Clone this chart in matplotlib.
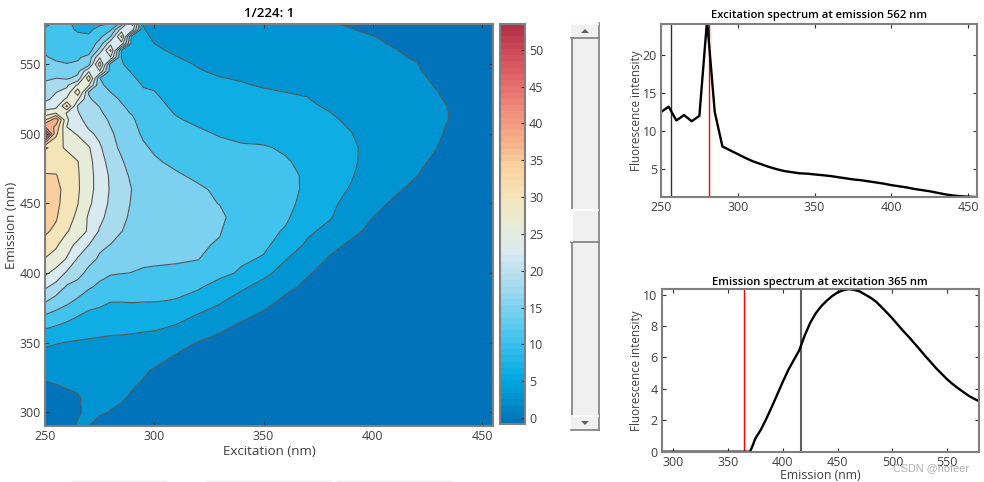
import numpy as np
import matplotlib
matplotlib.use("Agg")
import matplotlib.pyplot as plt
from matplotlib.colors import LinearSegmentedColormap, Normalize
from matplotlib.cm import ScalarMappable
from matplotlib.patches import Rectangle, Polygon
from matplotlib.lines import Line2D

W, H = 984, 482
plt.rcParams['font.family'] = ['Open Sans', 'DejaVu Sans']

excitation = [250,255,260,265,270,275,280,285,290,295,300,310,320,330,340,350,360,370,380,390,400,410,420,430,440,455]
emission_a = [290,300,310,320,330,340,350,360,370,380,390,400,420,440,460,470,480,490,500,510,520,530,540,550,560,570,580]

# one list per excitation wavelength, values ordered by emission_a
ex250=[1.5,2.0,2.4,2.7,3.6,5.5,7.5,10.8,14.6,19,23,27,32.7,35.5,35.5,34.5,32,29.9,53,34,24,20.5,18,15.5,14.4,12,10]
ex255=[1.8,2.2,2.5,2.9,3.8,5.5,7.0,10,13.5,17,21,25,30.8,34.5,35,34.3,32.5,31,35,41,24.5,22.3,18.5,15,13.5,12,11]
ex260=[2,2.5,2.7,3,4,5.5,6.7,9,12.5,15.5,18,21.8,27.8,31.5,33,32.5,31.5,29.8,27.5,26.8,35,23.5,18,14.8,12,11.3,11]
ex265=[3.1,2.7,2.8,3.1,4.1,5.6,6.5,8.5,11,14,16.8,20,25.2,29.5,30.7,30.6,30.3,28.5,26,23.5,22,33,19.5,15.2,12,11,10.2]
ex270=[2.9,3.3,3.2,3.5,4.3,5.5,6.4,7.9,9.8,12.7,15,17.3,22.4,25.8,27.5,27.5,27.5,26.7,23.2,21,19.5,18.2,33,17,12.5,11,9.8]
ex275=[2.3,3.1,3.4,3.7,4.5,5.5,6.3,7.6,9.3,12,14,15.5,19.3,23.4,24.8,24.8,24,23,21.5,19.8,18.4,16,14.7,32.5,20,13.5,10]
ex280=[2,2.85,3.2,3.6,4.4,5.4,6.2,7.4,8.9,10.9,13,14.9,18.4,21,22,21.8,21,19.8,19,18,16.8,14.6,12.5,13,31,18.5,10.5]
ex285=[1.7,2.5,3.1,3.5,4.3,5.3,6.2,7.3,8.8,10.9,12.8,14.7,17,19.3,19.8,19.5,18.9,17.8,17.3,15.6,14.9,13.5,12.3,10.9,10.6,31,15]
ex290=[1.4,2.1,2.6,3.1,3.9,5.1,6.1,7.2,8.7,11,12.8,14.55,16,17.8,18.4,17.9,16.8,16,15.5,15,13.8,12.8,11.1,9.8,8.8,8.4,28]
ex295=[1.2,1.7,2.2,2.7,3.2,4.6,5.9,7.1,8.6,10.9,12.4,14.35,15.1,16.6,17,16.5,15.7,15,14.2,13.3,12.3,11.1,9.9,8.9,7.9,7.2,6.7]
ex300=[1.0,1.4,1.8,2.2,2.7,3.9,5.2,7.1,8.4,10.9,12.2,14.3,15,15.9,16.3,15.8,15,14.2,13.2,12.4,11.6,10.8,9.7,8.6,7.2,6.5,6.1]
ex310=[.7,1,1.3,1.7,2.1,2.7,3.9,6.3,8,10.5,11.8,14.1,15.2,15.9,15.6,15,13.9,12.9,12,11,10.1,9.3,8.5,7.5,6.4,5.7,5]
ex320=[.5,.7,1,1.3,1.7,2.2,2.8,4.8,6.7,9,11.2,13,15,15.5,15.1,14,13,12,11.2,10.1,9,8.2,7.4,6.6,5.7,5,4.3]
ex330=[.3,.5,.7,1,1.3,1.7,2.3,3.2,4.9,7.4,9.2,11.7,14.3,15.3,14,13.2,12.4,11.4,10.5,9.5,8.7,7.9,6.9,6,5.2,4.5,3.9]
ex340=[.2,.3,.5,.7,1,1.3,1.8,2.4,3.4,4.8,7.6,10.2,11.6,12.9,12.9,12.5,11.9,11,10.1,9.1,8.2,7.4,6.6,5.7,4.9,4.2,3.6]
ex350=[.1,.2,.3,.5,.7,1,1.4,1.9,2.6,3.6,5.1,8,11.3,12.4,12.5,12.2,11.7,11,9.6,8.6,7.7,7.1,6.2,5.3,4.6,3.9,3.3]
ex360=[.05,.1,.2,.3,.5,.7,1,1.4,1.9,2.5,3.4,5,9.3,11.2,11.6,11.4,11,10.3,8.9,8,7.2,6.8,5.8,5,4.3,3.6,3]
ex370=[0,.05,.1,.2,.3,.5,.7,1,1.4,1.9,2.5,3.1,6.1,8.8,10.2,10.3,9.9,9.3,8.5,7.8,7.2,6.6,5.6,4.8,4.1,3.4,2.9]
ex380=[0,0,.05,.1,.2,.3,.5,.7,1,1.3,1.7,2.2,3.6,7.2,8.3,8.6,8.7,8.4,7.9,7.3,6.5,5.6,4.9,4.2,3.5,3.1,2.95]
ex390=[0,0,0,0,0,.1,.2,.3,.5,.7,1,1.4,2.5,4.5,6.5,7.1,7.4,7.3,6.9,6.3,5.5,4.9,4.3,3.8,3.4,3.1,2.75]
ex400=[0,0,0,0,0,0,.1,.2,.3,.4,.6,.9,1.8,2.9,4.2,4.9,5.5,5.8,5.6,5.1,4.7,4.3,3.9,3.6,3.2,2.95,2.3]
ex410=[0,0,0,0,0,0,0,0,0,.1,.2,.5,1.1,2,3.2,3.9,4.3,4.6,4.7,4.5,4.2,3.9,3.5,3.2,2.95,2.6,2]
ex420=[0,0,0,0,0,0,0,0,0,0,.1,.2,.6,1.4,2.4,2.95,3.3,3.6,3.7,3.7,3.6,3.4,3.2,2.95,2.6,2.2,1.7]
ex430=[0,0,0,0,0,0,0,0,0,0,0,0,.3,.9,1.7,2.1,2.5,2.85,3.05,3.15,3.1,2.9,2.6,2.3,1.95,1.6,1.2]
ex440=[0,0,0,0,0,0,0,0,0,0,0,0,.1,.5,1,1.3,1.6,2,2.3,2.6,2.6,2.3,2,1.7,1.3,1,.7]
ex455=[0,0,0,0,0,0,0,0,0,0,0,0,0,.1,.3,.5,.6,.8,.9,1,1,1,.8,.7,.5,.4,.3]

# further emission rows, values ordered by excitation
em410=[30,28.5,26,22,19.9,17.9,16.5,15.7,15.2,15,14.9,14.85,14.7,13,11.2,10.4,7,4.2,2.7,1.8,1.3,.8,.4,.15,0,0]
em430=[34.7,33.3,30.5,28.5,25.7,22,20,18.6,17.2,16,15.6,15.5,15.3,14.8,12.3,11.7,10.4,7.6,5.6,3.5,2.3,1.5,1,.6,.3,0]
em450=[36,35,32.5,30.3,27,24.3,21.7,19.6,18.2,17,16.2,15.9,15.4,14.5,13,12.5,11.5,9.8,7.7,5.5,3.5,2.6,1.9,1.3,.8,.2]
em505=[42,37,26.3,24.5,22,20.5,18.5,16.5,15.3,13.8,12.8,11.5,10.7,10,9.6,9.1,8.4,8.1,7.6,6.6,5.4,4.6,3.7,3.1,2.45,.95]
em515=[28,30,26,22.7,20.3,19,17.4,15.2,14.4,12.8,12,10.5,9.5,9.1,8.6,8.1,7.6,7.5,6.9,5.9,4.9,4.35,3.65,3.15,2.6,1]
em525=[21.5,23.5,27,27,19,17,15.7,14.2,13.3,11.7,11.2,9.7,8.6,8.3,7.8,7.4,7,6.9,6,5.2,4.5,4.05,3.5,3,2.45,1]
em535=[19.2,20.3,21.8,27,27,15.3,13.5,12.9,11.9,10.5,10.3,8.9,7.8,7.4,7,6.6,6.3,6.1,5.2,4.6,4.1,3.7,3.3,2.75,2.15,.9]
em545=[16.7,16.8,16.5,17.5,26,26,12.7,11.6,10.4,9.4,9.1,8,7,6.4,6.1,5.7,5.4,5.2,4.5,4,3.75,3.35,3.05,2.45,1.85,.75]
em555=[14.8,14.2,13.3,14,16,26,26,10.7,9.2,8.4,7.8,6.9,6.1,5.6,5.3,4.9,4.6,4.4,3.8,3.6,3.4,3.05,2.8,2.1,1.5,.6]
em565=[13,12.5,11.6,11.5,12,16,25,25,8.5,7.5,6.8,6,5.3,4.8,4.5,4.2,3.9,3.7,3.3,3.25,3.05,2.8,2.4,1.8,1.15,.45]
em575=[11,11.3,11.1,10.5,10.2,11.5,14,24,24,6.9,6.3,5.3,4.6,4.2,3.9,3.6,3.3,3.1,3,2.95,2.6,2.3,1.95,1.4,.85,.35]
emission_b = [410,430,450,505,515,525,535,545,555,565,575]

contour_levels = [-1,2.9,6.8,10.7,14.6,18.5,22.4,26.3,30.2,34.1,38,41.9,45.8,49.7,53.6]
cbar_values = [-0.8,2.9,5,6.8,10.7,14.6,18.5,22.4,26.3,30.2,34.1,38,42,45.8,49.7,53.5]
cbar_colors = ['#0073ba','#0098d4','#00a8e0','#17b1e7','#45c4ef','#79d1ef','#aedcee','#d8eaf0',
               '#e9ecd5','#f5e4b8','#f8d3a0','#f5ae88','#f08c7c','#e46a6c','#d04c5a','#b03249']
colorbar_ticks = [0,5,10,15,20,25,30,35,40,45,50]

ex_spec_x = [250,255,260,265,270,275,280,285,290,295,300,305,310,315,320,325,330,335,340,345,350,355,360,365,370,375,380,385,390,395,400,405,410,415,420,425,430,435,440,445,450,455]
ex_spec_y = [12.5,13.2,11.4,12.1,11.3,12.0,24.5,12.5,8.0,7.5,7.0,6.5,6.05,5.7,5.35,5.05,4.8,4.65,4.5,4.45,4.35,4.25,4.15,4.0,3.85,3.7,3.6,3.45,3.3,3.15,2.95,2.8,2.65,2.45,2.3,2.15,1.95,1.75,1.6,1.5,1.45,1.4]
em_spec_x = [290,300,310,320,330,340,350,360,370,372,375,380,385,390,395,400,405,410,415,420,425,430,435,440,445,450,455,460,465,470,475,480,485,490,495,500,505,510,515,520,525,530,535,540,545,550,555,560,565,570,575,580]
em_spec_y = [0,0,0,0,0,0,0,0,0,0.3,0.85,1.4,2.1,2.86,3.65,4.45,5.2,5.83,6.45,7.4,8.2,8.8,9.25,9.6,9.9,10.13,10.27,10.34,10.3,10.2,10.0,9.8,9.55,9.2,8.85,8.47,8.07,7.67,7.3,6.9,6.5,6.08,5.7,5.3,4.95,4.6,4.3,4.03,3.78,3.54,3.35,3.18]

part_a = np.array([ex250,ex255,ex260,ex265,ex270,ex275,ex280,ex285,ex290,ex295,ex300,ex310,ex320,ex330,
                   ex340,ex350,ex360,ex370,ex380,ex390,ex400,ex410,ex420,ex430,ex440,ex455]).T
part_b = np.array([em410,em430,em450,em505,em515,em525,em535,em545,em555,em565,em575])
emission = np.array(emission_a + emission_b)
order = np.argsort(emission)
emission = emission[order]
intensity = np.vstack([part_a, part_b])[order]

fig = plt.figure(figsize=(W/100, H/100), dpi=100, facecolor='white')

def axpx(l, t, r, b):
    return fig.add_axes([l/W, 1-b/H, (r-l)/W, (b-t)/H])

def rectpx(l, t, r, b, **kw):
    fig.add_artist(Rectangle((l/W, 1-b/H), (r-l)/W, (b-t)/H, transform=fig.transFigure, **kw))

def linepx(xs, ys, **kw):
    fig.add_artist(Line2D([x/W for x in xs], [1-y/H for y in ys], transform=fig.transFigure, **kw))

GRAY = '#7f7f7f'
TXT = '#404040'

def style(ax, fs=9):
    for s in ax.spines.values():
        s.set_color(GRAY)
        s.set_linewidth(1.5)
    ax.tick_params(direction='in', length=3, width=0.8, color='#303030', top=True, right=True,
                   labelsize=fs, labelcolor=TXT, pad=3)

# main map
ax = axpx(45, 24, 493, 426)
cmap = LinearSegmentedColormap.from_list(
    'spec', [((v-cbar_values[0])/(cbar_values[-1]-cbar_values[0]), c) for v, c in zip(cbar_values, cbar_colors)], N=64)
norm = Normalize(cbar_values[0], cbar_values[-1])
fills = [cmap(norm(l)) for l in contour_levels[:-1]]
ax.contourf(excitation, emission, intensity, levels=contour_levels, colors=fills)
ax.contour(excitation, emission, intensity, levels=contour_levels[1:-1], colors='#555555', linewidths=0.8)
ax.set_xlim(250, 455)
ax.set_ylim(290, 579)
ax.set_xticks([250,300,350,400,450])
ax.set_yticks([300,350,400,450,500,550])
style(ax)
ax.set_xlabel('Excitation (nm)', fontsize=9.6, color=TXT, labelpad=1)
ax.set_ylabel('Emission (nm)', fontsize=9.6, color=TXT, labelpad=1)
ax.set_title('1/224: 1', fontsize=9.5, color='black', pad=5, fontweight='semibold')

# colorbar
cax = axpx(500, 24, 525, 424)
cb = fig.colorbar(ScalarMappable(norm=norm, cmap=cmap), cax=cax)
cb.set_ticks(colorbar_ticks)
cb.ax.tick_params(direction='in', length=3, width=0.8, color='#303030', labelsize=9, labelcolor=TXT, pad=3)
cb.outline.set_edgecolor(GRAY)
cb.outline.set_linewidth(1.5)

# slider
rectpx(571, 23, 599, 430, facecolor='#f0f0f0', edgecolor='none')
linepx([571.5,571.5],[38,210], color=GRAY, lw=1.2)
linepx([571.5,571.5],[242,416], color=GRAY, lw=1.2)
linepx([599,599],[23,430], color=GRAY, lw=1.2)
linepx([571,599],[38.5,38.5], color=GRAY, lw=1.2)
linepx([571,599],[242,242], color=GRAY, lw=1.2)
linepx([571,599],[430,430], color=GRAY, lw=1.2)
linepx([572,598],[210,210], color='white', lw=1.2)
linepx([572,572],[210,241], color='white', lw=1.2)
linepx([572,598],[23.5,23.5], color='white', lw=1.2)
linepx([572,598],[416,416], color='white', lw=1.2)
for pts in ([(581,33),(589,33),(585,29)], [(581,421),(589,421),(585,425)]):
    fig.add_artist(Polygon([(x/W, 1-y/H) for x, y in pts], transform=fig.transFigure,
                           facecolor='#606060', edgecolor='none'))

# excitation spectrum
a1 = axpx(661, 24, 977, 197)
a1.axvline(256.5, color='#303030', lw=1)
a1.axvline(281, color='#ff0000', lw=1)
a1.plot(ex_spec_x, ex_spec_y, color='black', lw=1.7)
a1.set_xlim(250, 455.8)
a1.set_ylim(1.4, 24)
a1.set_xticks([250,300,350,400,450])
a1.set_yticks([5,10,15,20])
style(a1)
a1.set_ylabel('Fluorescence intensity', fontsize=8.4, color=TXT, labelpad=0)
a1.set_title('Excitation spectrum at emission 562 nm', fontsize=8.1, color='black', pad=4, fontweight='semibold')

# emission spectrum
a2 = axpx(661.7, 289, 979, 451.7)
a2.axvline(365, color='#ff0000', lw=1)
a2.axvline(416.3, color='#606060', lw=1.5)
a2.plot(em_spec_x, em_spec_y, color='black', lw=1.7)
a2.set_xlim(289.5, 579)
a2.set_ylim(0, 10.35)
a2.set_xticks([300,350,400,450,500,550])
a2.set_yticks([0,2,4,6,8,10])
style(a2)
a2.set_ylabel('Fluorescence intensity', fontsize=8.4, color=TXT, labelpad=0)
a2.set_xlabel('Emission (nm)', fontsize=8.8, color=TXT, labelpad=0)
a2.set_title('Emission spectrum at excitation 365 nm', fontsize=8.1, color='black', pad=3, fontweight='semibold')

fig.text(931/W, 1-468.5/H, 'CSDN @hofeer', fontsize=7.8, color='#b0b0b0', family='Liberation Sans',
         ha='center', va='center')

for x0, x1 in ((72,166),(206,331),(337,452)):
    linepx([x0,x1],[481,481], color='#eeeeee', lw=1)

fig.savefig('out.png', dpi=100)
